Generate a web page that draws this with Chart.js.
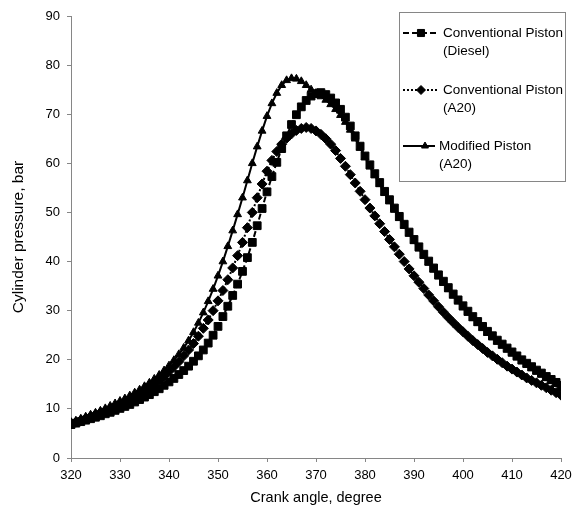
<!DOCTYPE html>
<html>
<head>
<meta charset="utf-8">
<title>Cylinder pressure</title>
<script src="https://cdn.jsdelivr.net/npm/chart.js"></script>
<style>
  html, body { margin: 0; padding: 0; background: #fff; }
  #wrap { width: 584px; height: 516px; }
</style>
</head>
<body>
<div id="wrap"><canvas id="myChart" width="584" height="516"></canvas></div>
<script>
var angles = [
    320, 321, 322, 323, 324, 325, 326, 327, 328, 329,
    330, 331, 332, 333, 334, 335, 336, 337, 338, 339,
    340, 341, 342, 343, 344, 345, 346, 347, 348, 349,
    350, 351, 352, 353, 354, 355, 356, 357, 358, 359,
    360, 361, 362, 363, 364, 365, 366, 367, 368, 369,
    370, 371, 372, 373, 374, 375, 376, 377, 378, 379,
    380, 381, 382, 383, 384, 385, 386, 387, 388, 389,
    390, 391, 392, 393, 394, 395, 396, 397, 398, 399,
    400, 401, 402, 403, 404, 405, 406, 407, 408, 409,
    410, 411, 412, 413, 414, 415, 416, 417, 418, 419,
    420
];

// conventional piston, diesel
var dieselConv = [
    6.8, 7.1, 7.4, 7.7, 8.0, 8.3, 8.6, 9.0, 9.3, 9.7,
    10.1, 10.5, 10.9, 11.4, 11.9, 12.4, 12.9, 13.5, 14.1, 14.8,
    15.5, 16.2, 17.0, 17.8, 18.7, 19.7, 20.8, 22.0, 23.4, 25.0,
    26.8, 28.8, 30.9, 33.1, 35.4, 38.0, 40.8, 43.9, 47.3, 50.8,
    54.2, 57.3, 60.2, 63.0, 65.6, 67.9, 69.9, 71.5, 72.8, 73.7,
    74.2, 74.4, 74.0, 73.3, 72.3, 71.0, 69.4, 67.6, 65.6, 63.5,
    61.5, 59.7, 57.9, 56.1, 54.3, 52.6, 50.9, 49.2, 47.6, 46.0,
    44.5, 43.0, 41.5, 40.1, 38.7, 37.3, 36.0, 34.7, 33.4, 32.2,
    31.0, 29.9, 28.8, 27.8, 26.8, 25.8, 24.9, 24.0, 23.2, 22.4,
    21.6, 20.8, 20.0, 19.3, 18.6, 17.9, 17.3, 16.6, 16.0, 15.4,
    14.8
];

// conventional piston, A20
var a20Conv = [
    7.0, 7.3, 7.7, 8.0, 8.4, 8.8, 9.2, 9.6, 10.0, 10.4,
    10.9, 11.4, 11.9, 12.5, 13.1, 13.7, 14.4, 15.1, 15.9, 16.7,
    17.6, 18.6, 19.6, 20.8, 22.0, 23.3, 24.8, 26.4, 28.1, 30.0,
    32.0, 34.1, 36.3, 38.7, 41.2, 43.9, 46.9, 50.0, 53.0, 55.8,
    58.4, 60.6, 62.4, 63.9, 65.1, 66.0, 66.7, 67.1, 67.3, 67.1,
    66.6, 65.9, 65.0, 63.9, 62.6, 61.0, 59.4, 57.7, 56.0, 54.3,
    52.6, 50.9, 49.3, 47.7, 46.1, 44.5, 43.0, 41.5, 40.0, 38.5,
    37.1, 35.8, 34.5, 33.2, 32.0, 30.8, 29.7, 28.6, 27.6, 26.6,
    25.7, 24.8, 23.9, 23.1, 22.3, 21.5, 20.8, 20.1, 19.4, 18.7,
    18.1, 17.5, 16.9, 16.3, 15.8, 15.3, 14.8, 14.3, 13.8, 13.3,
    12.8
];

// modified piston, A20
var a20Mod = [
    7.3, 7.6, 8.0, 8.4, 8.8, 9.2, 9.6, 10.1, 10.6, 11.1,
    11.6, 12.1, 12.7, 13.3, 13.9, 14.6, 15.3, 16.1, 16.9, 17.8,
    18.8, 19.9, 21.1, 22.4, 23.9, 25.6, 27.5, 29.6, 31.9, 34.4,
    37.1, 40.0, 43.1, 46.3, 49.6, 53.0, 56.5, 60.0, 63.4, 66.6,
    69.6, 72.2, 74.3, 75.9, 76.9, 77.3, 77.2, 76.7, 75.9, 75.0,
    74.3, 73.6, 72.9, 72.0, 71.0, 69.8, 68.4, 66.8, 65.0, 63.1,
    61.2, 59.3, 57.5, 55.7, 53.9, 52.2, 50.5, 48.8, 47.2, 45.6,
    44.1, 42.6, 41.1, 39.7, 38.3, 36.9, 35.6, 34.3, 33.0, 31.8,
    30.6, 29.5, 28.4, 27.4, 26.4, 25.4, 24.5, 23.6, 22.8, 22.0,
    21.2, 20.4, 19.6, 18.9, 18.2, 17.5, 16.9, 16.2, 15.6, 15.0,
    14.2
];

var seriesLabels = [
    ['Conventional Piston', '(Diesel)'],
    ['Conventional Piston', '(A20)'],
    ['Modified Piston', '(A20)']
];

var xTicks = [320, 330, 340, 350, 360, 370, 380, 390, 400, 410, 420];
var yTicks = [0, 10, 20, 30, 40, 50, 60, 70, 80, 90];

var fontFamily = "'Liberation Sans', Arial, sans-serif";
var axisGrey = '#868686';

var toPoints = function(values) {
    return values.map(function(v, i) {
        return { x: angles[i], y: v };
    });
};

// boxed legend in the upper right, two text lines per entry
var legendBox = {
    id: 'legendBox',
    afterDraw: function(chart) {
        var ctx = chart.ctx;
        var rows = [
            { y: 33, textX: 443, markX: 421 },
            { y: 90, textX: 443, markX: 421 },
            { y: 146, textX: 439, markX: 425 }
        ];
        ctx.save();
        ctx.fillStyle = '#fff';
        ctx.fillRect(399.5, 12.5, 166, 169);
        ctx.strokeStyle = axisGrey;
        ctx.lineWidth = 1;
        ctx.strokeRect(399.5, 12.5, 166, 169);

        chart.data.datasets.forEach(function(ds, i) {
            var row = rows[i];
            ctx.strokeStyle = '#000';
            ctx.fillStyle = '#000';
            ctx.lineWidth = ds.borderWidth;
            ctx.setLineDash(ds.borderDash || []);
            ctx.beginPath();
            ctx.moveTo(403, row.y);
            ctx.lineTo(row.textX - 4, row.y);
            ctx.stroke();
            ctx.setLineDash([]);
            ctx.lineWidth = 1;
            Chart.helpers.drawPoint(ctx, {
                pointStyle: ds.pointStyle,
                radius: ds.pointRadius - 0.5,
                borderWidth: 1,
                rotation: 0
            }, row.markX, row.y);

            ctx.font = '13.5px ' + fontFamily;
            ctx.textBaseline = 'middle';
            ctx.textAlign = 'left';
            ds.label.forEach(function(line, j) {
                ctx.fillText(line, row.textX, row.y + j * 18.5);
            });
        });
        ctx.restore();
    }
};

var config = {
    type: 'line',
    data: {
        datasets: [{
            label: seriesLabels[0],
            data: toPoints(dieselConv),
            borderColor: '#000',
            backgroundColor: '#000',
            borderWidth: 2,
            borderDash: [6, 3],
            pointStyle: 'rect',
            pointRadius: 5.5,
            pointBorderWidth: 1,
            pointBorderColor: '#000',
            pointBackgroundColor: '#000'
        }, {
            label: seriesLabels[1],
            data: toPoints(a20Conv),
            borderColor: '#000',
            backgroundColor: '#000',
            borderWidth: 2,
            borderDash: [2, 2],
            pointStyle: 'rectRot',
            pointRadius: 5,
            pointBorderWidth: 1,
            pointBorderColor: '#000',
            pointBackgroundColor: '#000'
        }, {
            label: seriesLabels[2],
            data: toPoints(a20Mod),
            borderColor: '#000',
            backgroundColor: '#000',
            borderWidth: 2,
            pointStyle: 'triangle',
            pointRadius: 4.5,
            pointBorderWidth: 1,
            pointBorderColor: '#000',
            pointBackgroundColor: '#000'
        }]
    },
    options: {
        responsive: false,
        animation: false,
        layout: { padding: { top: 16, right: 23, bottom: 0, left: 0 } },
        plugins: {
            legend: { display: false },
            tooltip: { enabled: false }
        },
        scales: {
            x: {
                type: 'linear',
                min: 320,
                max: 420,
                afterBuildTicks: function(scale) {
                    scale.ticks = xTicks.map(function(v) { return { value: v }; });
                },
                afterFit: function(scale) { scale.height = 58; },
                border: { color: axisGrey, width: 1 },
                grid: { drawOnChartArea: false, color: axisGrey, tickLength: 4 },
                ticks: {
                    color: '#000',
                    padding: 6,
                    maxRotation: 0,
                    font: { family: fontFamily, size: 13 }
                },
                title: {
                    display: true,
                    text: 'Crank angle, degree',
                    color: '#000',
                    padding: { top: 0, bottom: 9 },
                    font: { family: fontFamily, size: 14.5 }
                }
            },
            y: {
                min: 0,
                max: 90,
                afterBuildTicks: function(scale) {
                    scale.ticks = yTicks.map(function(v) { return { value: v }; });
                },
                afterFit: function(scale) { scale.width = 71; },
                border: { color: axisGrey, width: 1 },
                grid: { drawOnChartArea: false, color: axisGrey, tickLength: 4 },
                ticks: {
                    color: '#000',
                    padding: 7,
                    font: { family: fontFamily, size: 13 }
                },
                title: {
                    display: true,
                    text: 'Cylinder pressure, bar',
                    color: '#000',
                    padding: { top: 9, bottom: 0 },
                    font: { family: fontFamily, size: 15.5 }
                }
            }
        }
    },
    plugins: [legendBox]
};

if (document.getElementById("myChart")) {
    var myChart = new Chart(document.getElementById("myChart").getContext("2d"), config);
}
</script>
</body>
</html>
